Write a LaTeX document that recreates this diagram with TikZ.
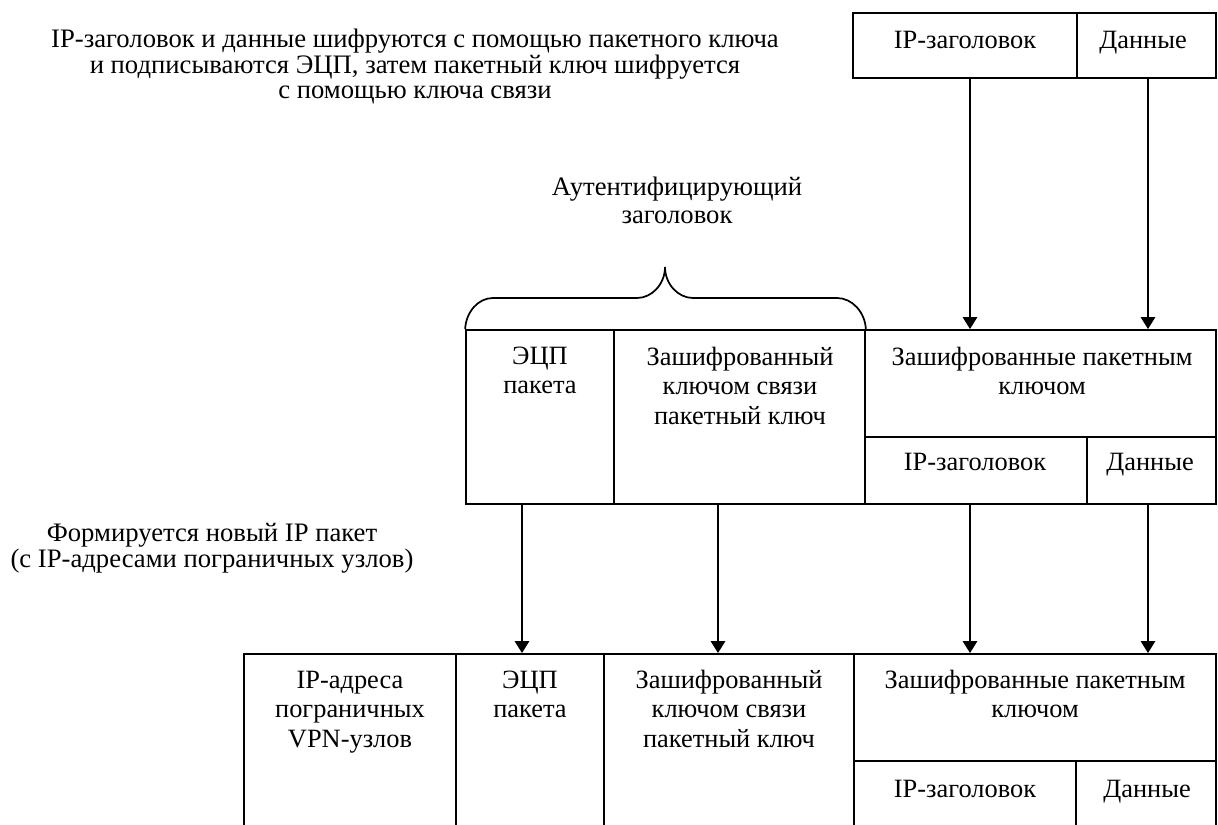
\documentclass[tikz,border=0pt]{standalone}
\usepackage{fontspec}
\setmainfont{Liberation Serif}
\usetikzlibrary{arrows.meta,fit}
\newcommand{\mlines}[1]{\begin{tabular}[t]{@{}c@{}}#1\end{tabular}}
\begin{document}
\begin{tikzpicture}[x=0.75pt,y=-0.75pt,
  cell/.style={draw,line width=1.3pt,inner sep=0pt},
  txt/.style={anchor=base,inner sep=0pt,font=\fontsize{19.8}{22.3}\selectfont},
  note/.style={anchor=base,inner sep=0pt,font=\fontsize{20}{#1}\selectfont},
  arr/.style={line width=2pt,-{Triangle[length=9pt,width=10.5pt]}},
  brace/.style={line width=1.3pt}]
\useasboundingbox (0,0) rectangle (1218,825);
\clip (0,0) rectangle (1218,825);
% notes
\node[note=18.75pt] (n1) at (415,47) {\mlines{IP-заголовок и данные шифруются с помощью пакетного ключа\\и подписываются ЭЦП, затем пакетный ключ шифруется\\с помощью ключа связи}};
\node[note=21pt] (n2) at (677,195) {\mlines{Аутентифицирующий\\заголовок}};
\node[note=20pt] (n3) at (212,541) {\mlines{Формируется новый IP пакет\\(с IP-адресами пограничных узлов)}};
% top packet
\node[cell,fit={(853,13)(1077,78)}] (tIP) {};
\node[cell,fit={(1077,13)(1216,78)}] (tData) {};
\node[txt] (tIPt) at (965,48) {IP-заголовок};
\node[txt] (tDatat) at (1143,48) {Данные};
% middle packet
\node[cell,fit={(466,330)(614,504)}] (mSig) {};
\node[cell,fit={(614,330)(865,504)}] (mKey) {};
\node[cell,fit={(865,330)(1216,437)}] (mEnc) {};
\node[cell,fit={(865,437)(1087,504)}] (mIP) {};
\node[cell,fit={(1087,437)(1216,504)}] (mData) {};
\node[txt] (mSigt) at (540,364) {\mlines{ЭЦП\\пакета}};
\node[txt] (mKeyt) at (740,365) {\mlines{Зашифрованный\\ключом связи\\пакетный ключ}};
\node[txt] (mEnct) at (1042,365) {\mlines{Зашифрованные пакетным\\ключом}};
\node[txt] (mIPt) at (975,470) {IP-заголовок};
\node[txt] (mDatat) at (1150,470) {Данные};
% brace over the authentication header
\draw[brace] (mSig.north west) .. controls (466,312) and (478,298) .. (493,298) -- (637,298)
  .. controls (652,298) and (665,284) .. (665,267)
  .. controls (665,284) and (678,298) .. (693,298) -- (837,298)
  .. controls (852,298) and (865,312) .. (mKey.north east);
% bottom packet
\node[cell,fit={(244,654)(456,830)}] (bAddr) {};
\node[cell,fit={(456,654)(604,830)}] (bSig) {};
\node[cell,fit={(604,654)(854,830)}] (bKey) {};
\node[cell,fit={(854,654)(1216,761)}] (bEnc) {};
\node[cell,fit={(854,761)(1076,830)}] (bIP) {};
\node[cell,fit={(1076,761)(1216,830)}] (bData) {};
\node[txt] (bAddrt) at (350,688) {\mlines{IP-адреса\\пограничных\\VPN-узлов}};
\node[txt] (bSigt) at (530,688) {\mlines{ЭЦП\\пакета}};
\node[txt] (bKeyt) at (729,688) {\mlines{Зашифрованный\\ключом связи\\пакетный ключ}};
\node[txt] (bEnct) at (1035,688) {\mlines{Зашифрованные пакетным\\ключом}};
\node[txt] (bIPt) at (965,797) {IP-заголовок};
\node[txt] (bDatat) at (1147,797) {Данные};
% arrow columns
\coordinate (x1) at (970,0);
\coordinate (x2) at (1148,0);
\coordinate (x3) at (522,0);
\coordinate (x4) at (718,0);
\draw[arr] (tIP.south -| x1) -- (mEnc.north -| x1);
\draw[arr] (tData.south -| x2) -- (mEnc.north -| x2);
\draw[arr] (mSig.south -| x3) -- (bSig.north -| x3);
\draw[arr] (mKey.south -| x4) -- (bKey.north -| x4);
\draw[arr] (mIP.south -| x1) -- (bEnc.north -| x1);
\draw[arr] (mData.south -| x2) -- (bEnc.north -| x2);
\end{tikzpicture}
\end{document}
